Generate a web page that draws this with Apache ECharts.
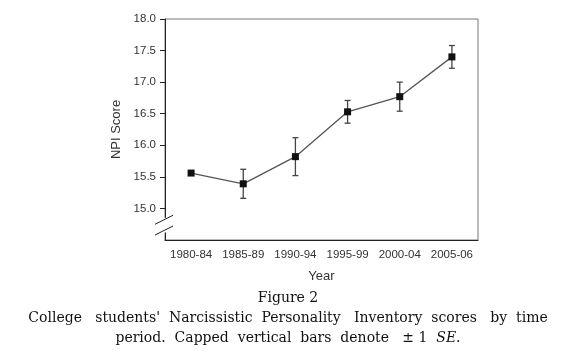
<!DOCTYPE html>
<html>
<head>
<meta charset="utf-8">
<script src="https://cdn.jsdelivr.net/npm/echarts@6/dist/echarts.min.js"></script>
<style>
  html, body { margin: 0; padding: 0; background: #fff; }
  #chart { width: 576px; height: 352px; }
</style>
</head>
<body>
<div id="chart"></div>
<script>
// ===== 数据 =====
const periods = ['1980-84', '1985-89', '1990-94', '1995-99', '2000-04', '2005-06'];
const npiMean = [15.56, 15.39, 15.82, 16.53, 16.77, 17.40];
const npiSE   = [0.0, 0.23, 0.30, 0.18, 0.23, 0.18];
const yTicks  = [15.0, 15.5, 16.0, 16.5, 17.0, 17.5, 18.0];

const errData = periods.map((p, i) => [i, npiMean[i] - npiSE[i], npiMean[i] + npiSE[i]]);

const tickFont = { fontFamily: 'Liberation Sans, Arial, sans-serif', fontSize: 11.5, color: '#333' };

const chart = echarts.init(document.getElementById('chart'));
chart.setOption({
  animation: false,
  grid: { left: 165, right: 98, top: 19, bottom: 112, show: true, borderColor: '#777', borderWidth: 1 },
  xAxis: {
    type: 'category',
    data: periods,
    boundaryGap: true,
    name: 'Year',
    nameLocation: 'middle',
    nameGap: 30,
    nameTextStyle: { ...tickFont, fontSize: 13 },
    axisLine: { lineStyle: { color: '#222', width: 1 } },
    axisTick: { alignWithLabel: true, interval: 0, length: 5, lineStyle: { color: '#222' } },
    axisLabel: { ...tickFont, interval: 0, margin: 9 },
    splitLine: { show: false },
  },
  yAxis: {
    type: 'value',
    min: 14.5,
    max: 18.0,
    interval: 0.5,
    name: 'NPI Score',
    nameLocation: 'middle',
    nameGap: 41,
    nameTextStyle: { ...tickFont, fontSize: 13 },
    axisLine: { show: true, lineStyle: { color: '#222', width: 1 } },
    axisTick: { show: true, length: 5, customValues: yTicks, lineStyle: { color: '#222' } },
    axisLabel: { ...tickFont, margin: 9, customValues: yTicks, formatter: v => v.toFixed(1) },
    splitLine: { show: false },
  },
  series: [
    {
      type: 'custom',
      data: errData,
      z: 3,
      renderItem: (params, api) => {
        const lo = api.coord([api.value(0), api.value(1)]);
        const hi = api.coord([api.value(0), api.value(2)]);
        if (Math.abs(hi[1] - lo[1]) < 1) return null;
        const w = 3;
        const st = { stroke: '#444', lineWidth: 1.3 };
        return {
          type: 'group',
          children: [
            { type: 'line', shape: { x1: lo[0], y1: lo[1], x2: hi[0], y2: hi[1] }, style: st },
            { type: 'line', shape: { x1: lo[0] - w, y1: lo[1], x2: lo[0] + w, y2: lo[1] }, style: st },
            { type: 'line', shape: { x1: hi[0] - w, y1: hi[1], x2: hi[0] + w, y2: hi[1] }, style: st },
          ],
        };
      },
    },
    {
      type: 'line',
      data: npiMean,
      z: 4,
      symbol: 'rect',
      symbolSize: 7,
      itemStyle: { color: '#111', borderWidth: 0 },
      lineStyle: { color: '#555', width: 1.3 },
    },
  ],
});

// 纵轴断裂标记
const axX = 165;
const yB1 = chart.convertToPixel({ yAxisIndex: 0 }, 14.82);
const yB2 = chart.convertToPixel({ yAxisIndex: 0 }, 14.65);
const slash = { stroke: '#222', lineWidth: 1 };
const capFont = '14px "DejaVu Serif", serif';

chart.setOption({
  graphic: [
    { type: 'rect', shape: { x: axX - 2, y: yB1 - 2, width: 4, height: yB2 - yB1 + 4 }, style: { fill: '#fff' }, z: 50 },
    { type: 'line', shape: { x1: axX - 10, y1: yB1 + 4.5, x2: axX + 8, y2: yB1 - 4.5 }, style: slash, z: 51 },
    { type: 'line', shape: { x1: axX - 10, y1: yB2 + 4.5, x2: axX + 8, y2: yB2 - 4.5 }, style: slash, z: 51 },
    {
      type: 'text', left: 'center', top: 291, z: 60,
      style: { text: 'Figure 2', font: capFont, fill: '#111' },
    },
    {
      type: 'text', left: 'center', top: 311, z: 60,
      style: {
        text: "College   students'  Narcissistic  Personality   Inventory  scores   by  time",
        font: capFont, fill: '#111',
      },
    },
    {
      type: 'text', left: 'center', top: 331, z: 60,
      style: {
        text: 'period.  Capped  vertical  bars  denote   \u00b1 1  {it|SE}.',
        font: capFont, fill: '#111',
        rich: { it: { fontStyle: 'italic', fontFamily: 'DejaVu Serif', fontSize: 14, fill: '#111' } },
      },
    },
  ],
});
</script>
</body>
</html>
